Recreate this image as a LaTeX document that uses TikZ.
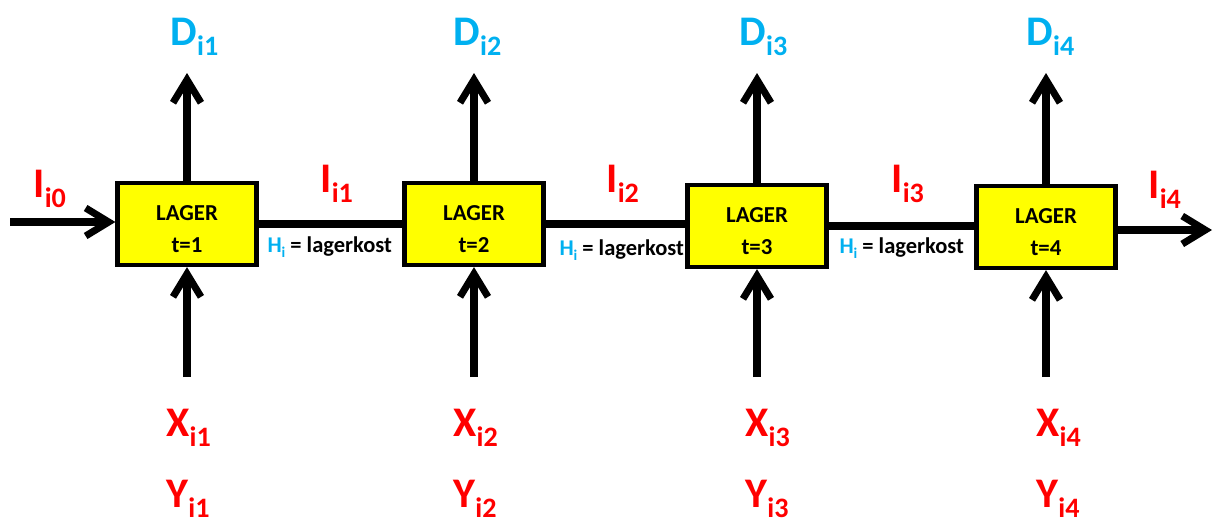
\documentclass[tikz,border=0pt]{standalone}
\usepackage{fontspec}
\setmainfont{Carlito}
\usetikzlibrary{arrows.meta}
\definecolor{lblred}{HTML}{FF0000}
\definecolor{lblblue}{HTML}{00B0F0}
\definecolor{boxyel}{HTML}{FFFF00}
\newcommand{\sublab}[2]{#1\raisebox{-6pt}{\fontsize{16}{16}\selectfont #2}}
\newcommand{\kostlab}{{\color{lblblue}H\raisebox{-3pt}{\fontsize{8.5}{8.5}\selectfont i}} = lagerkost}

\begin{document}
\begin{tikzpicture}[x=0.02cm,y=-0.02cm,line width=4pt,>={Straight Barb[length=4.6mm,width=5.6mm]}]
\tikzset{lager/.style={draw,line width=2.4pt,fill=boxyel,minimum width=2.78cm,minimum height=1.64cm,
    inner sep=0pt,align=center,font=\bfseries\fontsize{13}{18}\selectfont},
  biglab/.style={font=\bfseries\fontsize{24}{24}\selectfont,anchor=base west,inner sep=0pt},
  kost/.style={font=\bfseries\fontsize{12.8}{12.8}\selectfont,anchor=base west,inner sep=0pt}}
\useasboundingbox (0,0) rectangle (1218,529);
% ---------- lager boxes with demand (up) and supply (down) ----------
\foreach \i/\x/\y in {1/187/224,2/474/224,3/757/226,4/1046/227}{
  \node[lager] (b\i) at (\x,\y) {\rule{0pt}{14.2pt}LAGER\\t=\i};
  \coordinate (dt\i) at (\x,73);
  \coordinate (xt\i) at (\x,377);
  \draw[->] (b\i.north) -- (dt\i);
  \draw[->] (xt\i) -- (b\i.south);
}
\foreach \i/\dx/\xx in {1/167/163,2/450/450,3/736/742,4/1023/1033}{
  \node[biglab,text=lblblue] (d\i) at (\dx,45) {\sublab{D}{i\i}};
  \node[biglab,text=lblred] (x\i) at (\xx,436) {\sublab{X}{i\i}};
  \node[biglab,text=lblred] (y\i) at (\xx,507) {\sublab{Y}{i\i}};
}
% ---------- stock flow between periods ----------
\coordinate (in) at (10,222);
\coordinate (out) at (1212,230);
\draw[->] (in) -- (in -| b1.west);
\draw (b1.east) -- (b1.east -| b2.west);
\draw (b2.east) -- (b2.east -| b3.west);
\draw (b3.east) -- (b3.east -| b4.west);
\draw[->] (b4.east |- out) -- (out);
\foreach \i/\ix/\iy in {0/30/197,1/317/192,2/603/192,3/888/192,4/1145/198}{
  \node[biglab,text=lblred] (i\i) at (\ix,\iy) {\sublab{I}{i\i}};
}
\foreach \k/\hx/\hy in {1/264/252,2/556/255,3/836/253}{
  \node[kost] (h\k) at (\hx,\hy) {\kostlab};
}
\end{tikzpicture}
\end{document}
